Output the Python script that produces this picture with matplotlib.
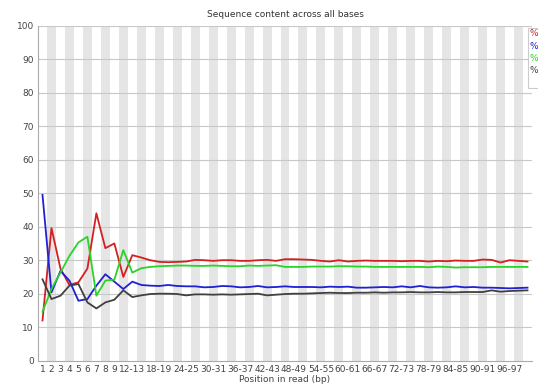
import numpy as np
import matplotlib.pyplot as plt
from matplotlib.patches import Rectangle

# base groups along the read: 1-9 single, then pairs up to 100-101
single_pos = [str(i) for i in range(1, 10)]
pair_pos = [f"{i}-{i + 1}" for i in range(10, 101, 2)]
positions = single_pos + pair_pos

pct_t = [12.0, 39.6, 27.5, 22.6, 23.4, 27.5, 44.0, 33.6, 35.0, 25.0, 31.5, 30.8, 30.0, 29.5,
         29.4, 29.5, 29.6, 30.1, 30.0, 29.8, 30.0, 30.0, 29.8, 29.8, 30.0, 30.1, 29.8, 30.3,
         30.3, 30.2, 30.1, 29.8, 29.6, 30.0, 29.6, 29.8, 29.9, 29.8, 29.8, 29.8, 29.7, 29.8,
         29.8, 29.6, 29.8, 29.7, 29.9, 29.8, 29.8, 30.2, 30.1, 29.3, 30.0, 29.8, 29.6]
pct_c = [49.5, 20.4, 26.8, 23.9, 17.9, 18.4, 22.4, 25.8, 23.6, 21.4, 23.6, 22.6, 22.4, 22.3,
         22.6, 22.3, 22.2, 22.2, 21.9, 22.0, 22.3, 22.2, 21.9, 22.0, 22.3, 21.9, 22.0, 22.2,
         22.0, 22.0, 22.0, 21.9, 22.1, 22.0, 22.1, 21.8, 21.8, 21.9, 22.0, 21.9, 22.2, 21.9,
         22.3, 21.9, 21.8, 21.9, 22.2, 21.9, 22.0, 21.8, 21.8, 21.7, 21.6, 21.7, 21.8]
pct_a = [14.6, 21.4, 26.3, 31.3, 35.3, 37.0, 19.4, 23.9, 24.2, 33.0, 26.3, 27.6, 28.0, 28.2,
         28.3, 28.4, 28.4, 28.3, 28.3, 28.4, 28.3, 28.2, 28.2, 28.4, 28.3, 28.4, 28.5, 28.0,
         28.0, 28.0, 28.1, 28.1, 28.1, 28.2, 28.2, 28.1, 28.1, 28.0, 28.0, 28.0, 28.0, 28.0,
         28.0, 27.9, 28.1, 28.0, 27.8, 27.9, 27.9, 27.9, 28.0, 28.0, 28.0, 28.0, 28.0]
pct_g = [24.3, 18.4, 19.4, 22.4, 22.9, 17.4, 15.6, 17.4, 18.2, 21.0, 19.0, 19.5, 19.9, 20.0,
         20.0, 19.9, 19.5, 19.8, 19.8, 19.7, 19.8, 19.7, 19.8, 19.9, 20.0, 19.5, 19.7, 19.9,
         20.0, 20.0, 20.1, 20.2, 20.3, 20.2, 20.2, 20.3, 20.3, 20.4, 20.3, 20.4, 20.4, 20.5,
         20.4, 20.4, 20.5, 20.4, 20.4, 20.5, 20.5, 20.5, 21.0, 20.6, 20.8, 20.9, 21.0]

series = [("%T", pct_t, "#d42020"), ("%C", pct_c, "#2020d4"),
          ("%A", pct_a, "#28d428"), ("%G", pct_g, "#404040")]

fig = plt.figure(figsize=(5.38, 3.85), dpi=100)
ax = fig.add_axes([38 / 538, 24.3 / 385, 494 / 538, 335 / 385])

n = len(positions)
x = np.arange(n)

# alternating grey column stripes
for i in range(1, n, 2):
    ax.axvspan(i - 0.5, i + 0.5, color="#e5e5e5", lw=0, zorder=0)
for v in range(10, 101, 10):
    ax.axhline(v, color="#c8c8c8", lw=0.8, zorder=1)

for name, vals, col in series:
    ax.plot(x, vals, color=col, lw=1.3, zorder=3)

ax.set_xlim(-0.5, n - 0.5)
ax.set_ylim(0, 100)
ax.set_yticks(range(0, 101, 10))

shown = list(range(9)) + list(range(10, n, 3))
ax.set_xticks(shown)
ax.set_xticklabels([positions[i] for i in shown])
ax.tick_params(length=0, labelsize=6.5, colors="#444444", pad=3)

for side in ("top", "right"):
    ax.spines[side].set_visible(False)
for side in ("left", "bottom"):
    ax.spines[side].set_color("#aaaaaa")
    ax.spines[side].set_linewidth(0.8)

ax.set_title("Sequence content across all bases", fontsize=6.5, color="#333333", pad=6)
ax.set_xlabel("Position in read (bp)", fontsize=6.5, color="#444444", labelpad=1)

# legend box at the right edge, partly past the border
fig.patches.append(Rectangle((528 / 538, 1 - 88 / 385), 20 / 538, 60 / 385,
                             transform=fig.transFigure, facecolor="white",
                             edgecolor="#cccccc", lw=0.8, zorder=5))
for k, (name, vals, col) in enumerate(series):
    fig.text(530 / 538, 1 - (34 + 12.3 * k) / 385, name, color=col,
             fontsize=6.5, va="center", ha="left", zorder=6)

fig.savefig("out.png", dpi=100)
